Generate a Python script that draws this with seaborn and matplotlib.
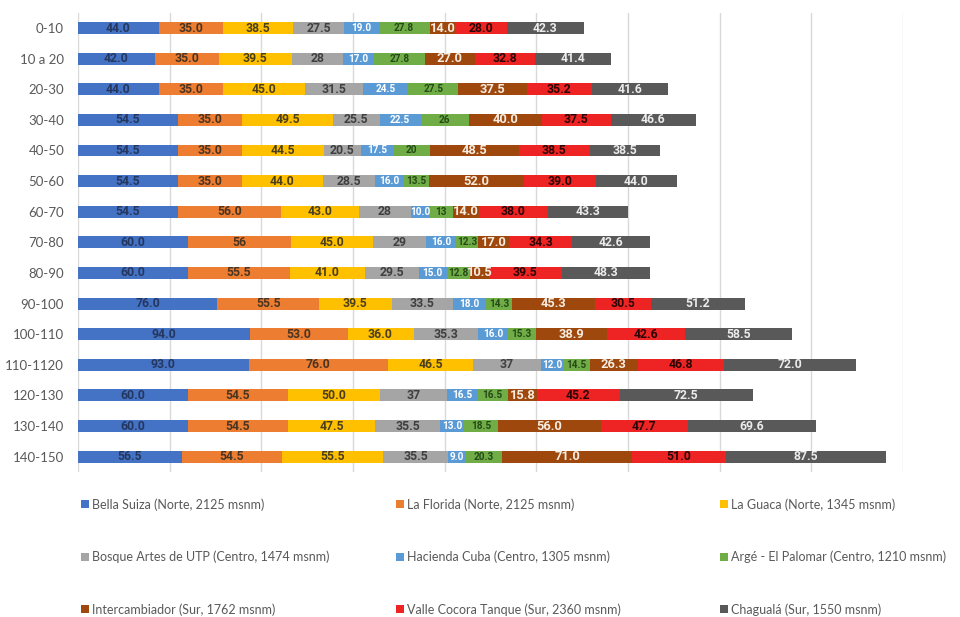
import numpy as np
import pandas as pd
import matplotlib
matplotlib.use("Agg")
import matplotlib.pyplot as plt
from matplotlib.patches import Patch
import seaborn as sns

# Soil depth intervals (cm), top to bottom
depths = ["0-10", "10 a 20", "20-30", "30-40", "40-50", "50-60", "60-70", "70-80",
          "80-90", "90-100", "100-110", "110-1120", "120-130", "130-140", "140-150"]

# One list per site; ints are shown without decimals in the labels
bella_suiza = [44.0, 42.0, 44.0, 54.5, 54.5, 54.5, 54.5, 60.0, 60.0, 76.0, 94.0, 93.0, 60.0, 60.0, 56.5]
la_florida = [35.0, 35.0, 35.0, 35.0, 35.0, 35.0, 56.0, 56, 55.5, 55.5, 53.0, 76.0, 54.5, 54.5, 54.5]
la_guaca = [38.5, 39.5, 45.0, 49.5, 44.5, 44.0, 43.0, 45.0, 41.0, 39.5, 36.0, 46.5, 50.0, 47.5, 55.5]
bosque_utp = [27.5, 28, 31.5, 25.5, 20.5, 28.5, 28, 29, 29.5, 33.5, 35.3, 37, 37, 35.5, 35.5]
hacienda_cuba = [19.0, 17.0, 24.5, 22.5, 17.5, 16.0, 10.0, 16.0, 15.0, 18.0, 16.0, 12.0, 16.5, 13.0, 9.0]
arge_palomar = [27.8, 27.8, 27.5, 26, 20, 13.5, 13, 12.3, 12.8, 14.3, 15.3, 14.5, 16.5, 18.5, 20.3]
intercambiador = [14.0, 27.0, 37.5, 40.0, 48.5, 52.0, 14.0, 17.0, 10.5, 45.3, 38.9, 26.3, 15.8, 56.0, 71.0]
valle_cocora = [28.0, 32.8, 35.2, 37.5, 38.5, 39.0, 38.0, 34.3, 39.5, 30.5, 42.6, 46.8, 45.2, 47.7, 51.0]
chaguala = [42.3, 41.4, 41.6, 46.6, 38.5, 44.0, 43.3, 42.6, 48.3, 51.2, 58.5, 72.0, 72.5, 69.6, 87.5]

site_names = [
    "Bella Suiza (Norte, 2125 msnm)",
    "La Florida (Norte, 2125 msnm)",
    "La Guaca (Norte, 1345 msnm)",
    "Bosque Artes de UTP (Centro, 1474 msnm)",
    "Hacienda Cuba (Centro, 1305 msnm)",
    "Argé - El Palomar (Centro, 1210 msnm)",
    "Intercambiador (Sur, 1762 msnm)",
    "Valle Cocora Tanque (Sur, 2360 msnm)",
    "Chagualá (Sur, 1550 msnm)",
]
site_values = [bella_suiza, la_florida, la_guaca, bosque_utp, hacienda_cuba,
               arge_palomar, intercambiador, valle_cocora, chaguala]

bar_colors = ["#4472C4", "#ED7D31", "#FFC000", "#A5A5A5", "#5B9BD5",
              "#70AD47", "#9E480E", "#EE2424", "#595959"]
text_colors = ["#25375f", "#4a3422", "#4a3f1c", "#3f3f3f", "#ffffff",
               "#254a17", "#f7ece0", "#2a0505", "#ececec"]
text_sizes = [8.8, 8.8, 8.8, 8.8, 7.2, 7.2, 9.3, 8.8, 8.8]

sns.set_theme(style="white")
plt.rcParams["font.family"] = ["Lato", "DejaVu Sans"]

fig = plt.figure(figsize=(9.6, 6.17), dpi=100)
ax = fig.add_axes([78 / 960, 1 - 472 / 617, 825 / 960, (472 - 12.7) / 617])


def fmt(v):
    return str(v) if isinstance(v, int) else f"{v:.1f}"


left = np.zeros(len(depths))
for vals, color, tcolor, tsize in zip(site_values, bar_colors, text_colors, text_sizes):
    df = pd.DataFrame({"depth": depths, "value": vals})
    sns.barplot(data=df, x="value", y="depth", orient="h", color=color,
                saturation=1, width=0.39, errorbar=None, left=left.copy(),
                linewidth=0, ax=ax)
    cont = ax.containers[-1]
    ax.bar_label(cont, labels=[fmt(v) for v in vals], label_type="center",
                 color=tcolor, fontsize=tsize, fontweight="bold",
                 family=["Roboto", "DejaVu Sans"])
    left += np.asarray(vals, dtype=float)

ax.set_xlim(0, 450)
ax.set_xticks(np.arange(0, 451, 50))
ax.set_xticklabels([])
ax.set_xlabel("")
ax.set_ylabel("")
ax.grid(axis="x", color="#d9d9d9", linewidth=1)
ax.grid(axis="y", visible=False)
ax.set_axisbelow(True)
ax.tick_params(axis="x", length=0)
ax.tick_params(axis="y", length=0, pad=10, labelsize=9.5, labelcolor="#595959")
for s in ax.spines.values():
    s.set_visible(False)

# Legend: three columns, three rows
handles = [Patch(facecolor=c, edgecolor="none") for c in bar_colors]
col_x = [81, 396, 720]
for j in range(3):
    idx = [j, j + 3, j + 6]
    fig.legend([handles[i] for i in idx], [site_names[i] for i in idx],
               loc="center left", bbox_to_anchor=(col_x[j] / 960, 1 - 557 / 617),
               frameon=False, borderpad=0, borderaxespad=0,
               handlelength=0.6, handleheight=0.6, handletextpad=0.3,
               labelspacing=3.2, fontsize=9, labelcolor="#595959")

fig.savefig("out.png", dpi=100)
